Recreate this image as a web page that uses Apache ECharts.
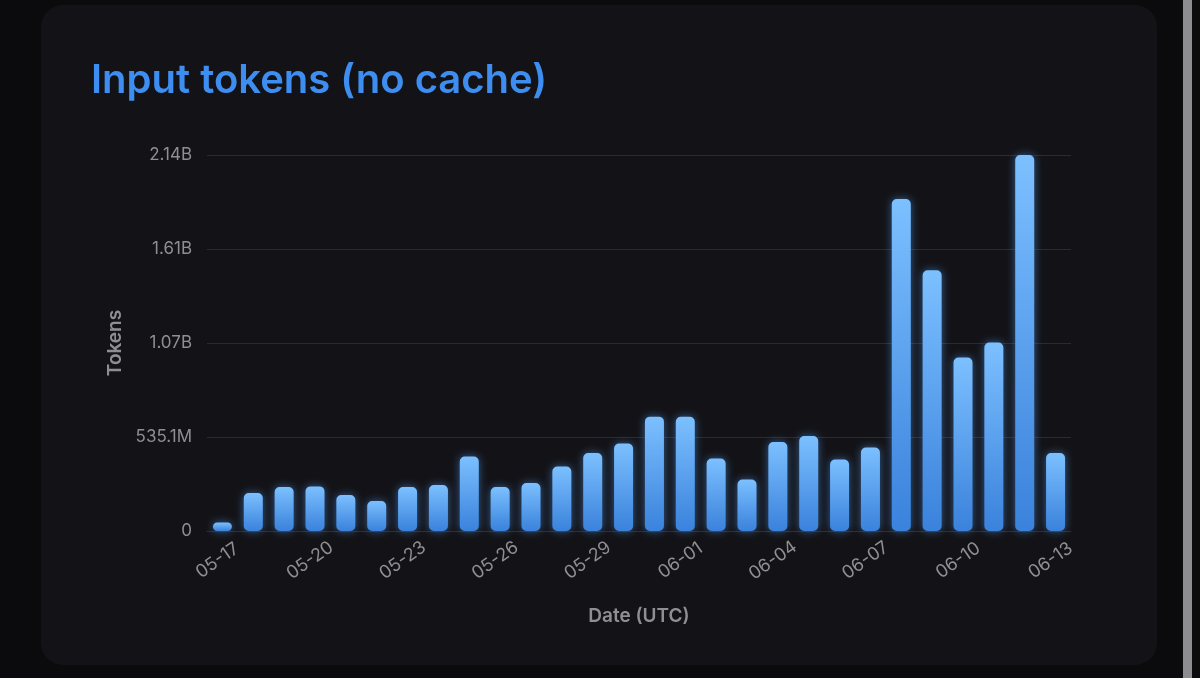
<!DOCTYPE html>
<html>
<head>
<meta charset="UTF-8">
<title>Input tokens (no cache)</title>
<script src="https://cdn.jsdelivr.net/npm/echarts@6/dist/echarts.min.js"></script>
<style>
    html, body { margin: 0; padding: 0; background: #0b0b0d; overflow: hidden; }
    #card { position: absolute; left: 41px; top: 5px; width: 1116px; height: 660px; background: #131317; border-radius: 22px; }
    #bar { position: absolute; left: 1183px; top: 0; width: 9px; height: 678px; background: #8d8d91; }
    #main { position: absolute; left: 0; top: 0; width: 1200px; height: 678px; }
</style>
</head>
<body>
    <div id="card"></div>
    <div id="bar"></div>
    <div id="main"></div>
    <script>
        // daily input tokens, in millions
        var dates = ['05-17', '05-18', '05-19', '05-20', '05-21', '05-22', '05-23', '05-24',
                     '05-25', '05-26', '05-27', '05-28', '05-29', '05-30', '05-31', '06-01',
                     '06-02', '06-03', '06-04', '06-05', '06-06', '06-07', '06-08', '06-09',
                     '06-10', '06-11', '06-12', '06-13'];
        var tokensM = [48, 216, 250, 254, 205, 171, 250, 262,
                       424, 250, 273, 367, 444, 498, 651, 650,
                       412, 293, 507, 541, 407, 475, 1890, 1484,
                       987, 1073, 2140, 444];
        var axisMaxM = 2140.4;
        var axisStepM = 535.1;

        var gray = '#8e8e93';
        var font = 'Inter, "Noto Sans", sans-serif';

        function fmt(v) {
            if (v === 0) return '0';
            if (v >= 1e9) return (v / 1e9).toFixed(2) + 'B';
            return (v / 1e6).toFixed(1) + 'M';
        }

        var myChart = echarts.init(document.getElementById('main'));

        var option = {
            backgroundColor: 'transparent',
            title: {
                text: 'Input tokens (no cache)',
                left: 86,
                top: 56,
                textStyle: { color: '#3d8ef0', fontSize: 40, fontWeight: 600, fontFamily: font }
            },
            grid: { left: 207, right: 129, top: 155, bottom: 147 },
            xAxis: {
                type: 'category',
                data: dates,
                name: 'Date (UTC)',
                nameLocation: 'middle',
                nameGap: 76,
                nameTextStyle: { color: gray, fontSize: 19, fontWeight: 600, fontFamily: font },
                axisLine: { lineStyle: { color: '#2c2c31' } },
                axisTick: { show: false },
                axisLabel: {
                    interval: 2,
                    rotate: 35,
                    align: 'center',
                    verticalAlign: 'middle',
                    padding: [0, 12, 0, 0],
                    color: gray,
                    fontSize: 18,
                    fontFamily: font,
                    margin: 26
                }
            },
            yAxis: {
                type: 'value',
                min: 0,
                max: axisMaxM * 1e6,
                interval: axisStepM * 1e6,
                name: 'Tokens',
                nameLocation: 'middle',
                nameRotate: 90,
                nameGap: 82,
                nameTextStyle: { color: gray, fontSize: 19, fontWeight: 600, fontFamily: font },
                axisLine: { show: false },
                axisTick: { show: false },
                splitLine: { lineStyle: { color: '#2a2a2f' } },
                axisLabel: {
                    color: gray,
                    fontSize: 17,
                    fontFamily: font,
                    margin: 15,
                    formatter: fmt
                }
            },
            series: [{
                type: 'bar',
                data: tokensM.map(function (v) { return v * 1e6; }),
                barWidth: 19,
                itemStyle: {
                    borderRadius: 5,
                    color: new echarts.graphic.LinearGradient(0, 0, 0, 1, [
                        { offset: 0, color: '#7cc0ff' },
                        { offset: 1, color: '#3a82dc' }
                    ]),
                    shadowColor: 'rgba(80, 160, 255, 0.55)',
                    shadowBlur: 8
                }
            }]
        };

        myChart.setOption(option);
    </script>
</body>
</html>
